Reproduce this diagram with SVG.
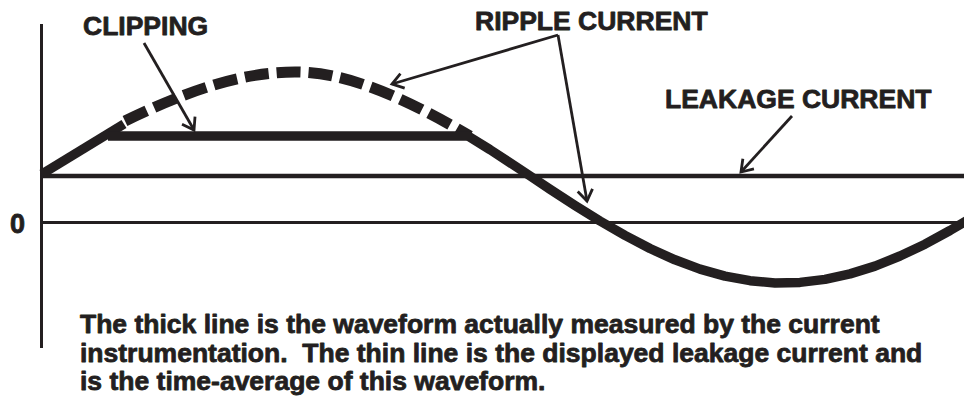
<svg xmlns="http://www.w3.org/2000/svg" width="964" height="398" viewBox="0 0 964 398">
<style>
text{font-family:"Liberation Sans",Arial,sans-serif;font-weight:bold;fill:#231f20;stroke:#231f20;stroke-width:0.8;stroke-linejoin:round}
.lbl{font-size:26.5px}
.body{font-size:26.5px}
.thin{fill:none;stroke:#231f20}
.wave{fill:none;stroke:#231f20;stroke-width:9.5;stroke-linejoin:round}
.arrow{fill:none;stroke:#231f20;stroke-width:2.8;marker-end:url(#ah)}
</style>
<defs>
<marker id="ah" viewBox="0 0 16 16" refX="13" refY="8" markerWidth="16" markerHeight="16" markerUnits="userSpaceOnUse" orient="auto-start-reverse" overflow="visible">
<path d="M2,0.5 L13,8 L2,15.5" fill="none" stroke="#231f20" stroke-width="2.8"/>
</marker>
</defs>
<rect width="964" height="398" fill="#fff"/>
<g id="axes">
<line class="thin" x1="41.5" y1="24" x2="41.5" y2="348" stroke-width="3"/>
<line class="thin" x1="41.5" y1="222.5" x2="964" y2="222.5" stroke-width="3"/>
<text x="10" y="233" style="font-size:27px">0</text>
</g>
<g id="leakage-line">
<line class="thin" x1="41.5" y1="176" x2="964" y2="176" stroke-width="4.5"/>
</g>
<g id="ripple-dashed">
<path d="M125,121 C185,92 240,72 295,72 C345,72 400,95 470,136" fill="none" stroke="#231f20" stroke-width="11" stroke-dasharray="24 8"/>
</g>
<g id="measured-waveform">
<path class="wave" d="M42,174 L124,124"/>
<path class="wave" d="M108,136 L468,136 L490,149.6 L510,162.7 L530,175.9 L550,189.2 L575,205.4 L600,221 L625,235.4 L650,248.5 L675,259.8 L700,269.1 L725,276.1 L750,280.7 L775,282.9 L800,282.4 L825,279.4 L850,273.9 L875,266.1 L900,256 L925,244.2 L950,230.5 L970,218.7"/>
</g>
<g id="clipping">
<text class="lbl" x="83" y="35">CLIPPING</text>
</g>
<g id="ripple-current">
<text class="lbl" x="475" y="30">RIPPLE CURRENT</text>
</g>
<g id="leakage-current">
<text class="lbl" x="665" y="108">LEAKAGE CURRENT</text>
</g>
<g id="connectors">
<line class="arrow" x1="144" y1="43" x2="194" y2="130"/>
<path class="arrow" d="M558,35 L392,84"/>
<path class="arrow" d="M558,35 L587,201"/>
<line class="arrow" x1="792" y1="116" x2="741" y2="172"/>
</g>
<g id="caption">
<text class="body" x="80" y="333">The thick line is the waveform actually measured by the current</text>
<text class="body" x="80" y="362" xml:space="preserve">instrumentation.  The thin line is the displayed leakage current and</text>
<text class="body" x="80" y="390">is the time-average of this waveform.</text>
</g>
</svg>
